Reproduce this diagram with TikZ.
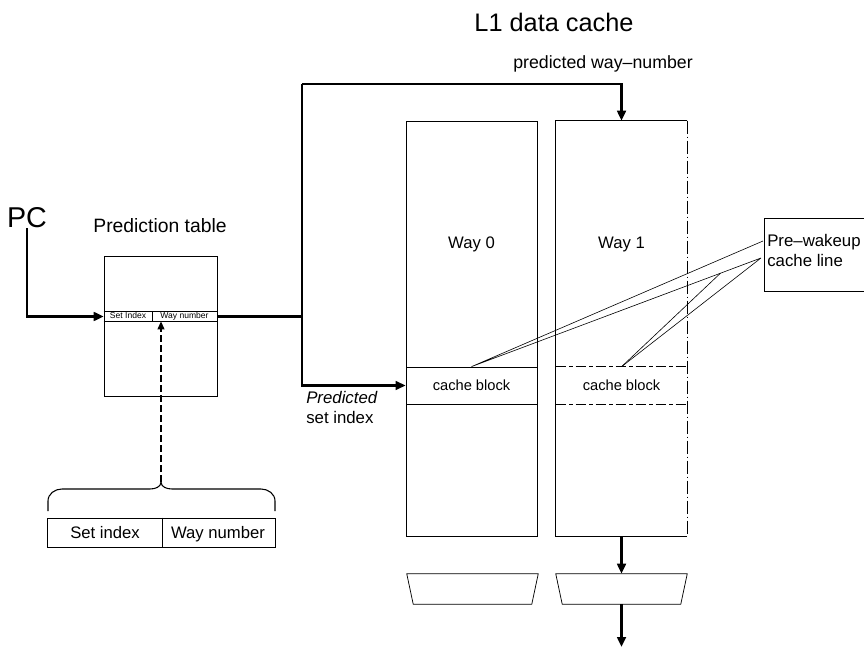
\documentclass[tikz,border=0pt]{standalone}
\usepackage{fontspec}
\setmainfont{Liberation Sans}
\usetikzlibrary{arrows.meta,calc}
\begin{document}
\begin{tikzpicture}[x=0.75pt,y=-0.75pt,
  bus/.style={line width=2.2pt},
  busarrow/.style={line width=2.2pt,-{Triangle[length=7.5pt,width=6.5pt]}},
  thinline/.style={line width=0.55pt},
  thinbox/.style={draw,line width=0.55pt,inner sep=0pt},
  blank/.style={inner sep=0pt},
  waybox/.style={inner sep=0pt,minimum width=98.25pt,minimum height=311.25pt},
  blkbox/.style={inner sep=0pt,minimum width=98.25pt,minimum height=27.75pt,font=\fontsize{11}{13}\selectfont},
  muxbox/.style={inner sep=0pt,minimum width=98.25pt,minimum height=22.5pt},
  lbl/.style={inner sep=0pt,anchor=base,font=\fontsize{12.5}{14}\selectfont},
  prelbl/.style={inner sep=0pt,anchor=base west,font=\fontsize{12.6}{14}\selectfont},
  tiny/.style={inner sep=0pt,anchor=base,font=\fontsize{6.4}{7}\selectfont}]
\useasboundingbox (0,0) rectangle (864,648);

% titles
\node[blank,font=\fontsize{19}{22}\selectfont] (title) at (554,22) {L1 data cache};
\node[blank,font=\fontsize{13.3}{15}\selectfont] (pwn) at (603,64) {predicted way–number};
\node[blank,font=\fontsize{21.5}{24}\selectfont] (pc) at (27,218) {PC};
\node[blank,font=\fontsize{14.5}{16}\selectfont] (ptl) at (160,226) {Prediction table};

% prediction table
\node[thinbox,minimum width=84.75pt,minimum height=105pt] (ptab) at (160.5,326) {};
\node[blank,minimum width=84.75pt,minimum height=6.75pt] (strip) at (160.5,316.5) {};
\draw[thinline] (strip.north west) -- (strip.north east) (strip.south west) -- (strip.south east);
\draw[thinline] ($(strip.north west)!0.425!(strip.north east)$) -- ($(strip.south west)!0.425!(strip.south east)$);
\node[tiny] (si) at (128,319) {Set Index};
\node[tiny] (wn) at (184.5,319) {Way number};

% format box with brace
\node[thinbox,minimum width=171pt,minimum height=21.75pt] (fmt) at (161,532.5) {};
\draw[thinline] ($(fmt.north west)!0.504!(fmt.north east)$) -- ($(fmt.south west)!0.504!(fmt.south east)$);
\node[lbl] (fsi) at (105,538) {Set index};
\node[lbl] (fwn) at (218,538) {Way number};
\coordinate (bt) at (161,482);
\draw[line width=0.8pt] (48,511) -- (48,501) to[out=90,in=180] (62,489) -- (150,489)
   to[out=0,in=-90] (bt) to[out=-90,in=180] (172,489) -- (261,489) to[out=0,in=90] (275,501) -- (275,511);
\draw[line width=1.2pt,dash pattern=on 5pt off 2.5pt,-{Triangle[length=6pt,width=5pt]}] (bt) -- (bt |- strip.south);

% ways
\node[waybox,draw,line width=0.55pt] (way0) at (471.5,328.5) {};
\node[waybox] (way1) at (621.5,328.5) {};
\draw[thinline] (way1.north east) -- (way1.north west) -- (way1.south west) -- (way1.south east);
\draw[thinline,dash pattern=on 10pt off 2pt on 1pt off 2pt] (way1.north east) -- (way1.south east);
\node[lbl] (w0) at (471.5,249) {Way 0};
\node[lbl] (w1) at (621.5,249) {Way 1};

% cache blocks
\node[blkbox,draw,line width=0.55pt] (blk0) at (471.5,385.5) {cache block};
\node[blkbox] (blk1) at (621.5,385.5) {cache block};
\draw[thinline,dash pattern=on 8pt off 2pt on 3pt off 2pt] (blk1.north west) -- (blk1.north east) (blk1.south west) -- (blk1.south east);

% pre-wakeup box
\coordinate (preTL) at (764,218);
\coordinate (preBL) at (764,291);
\draw[thinline] (864,218) -- (preTL) -- (preBL) -- (864,291);
\node[prelbl] (pre1) at (767,247) {Pre–wakeup};
\node[prelbl] (pre2) at (767,267) {cache line};
\coordinate (p1) at (763,241);
\coordinate (p2) at (761,258);
\draw[line width=0.45pt] (blk0.north) -- (p1) (blk0.north) -- (p2) (blk1.north) -- (p2);
\draw[line width=0.45pt] (blk1.north) -- ($(blk0.north)!0.86!(p2)$);

% muxes
\node[muxbox] (mux0) at (472.5,589) {};
\node[muxbox] (mux1) at (621.5,589) {};
\foreach \m in {mux0,mux1}
  \draw[thinline] (\m.north west) -- (\m.north east) -- ($(\m.south east)+(-6.5,0)$) -- ($(\m.south west)+(6.5,0)$) -- cycle;
\coordinate (out) at (621.5,647);

% buses
\coordinate (j1) at (302,316.5);
\coordinate (jt) at (302,84);
\draw[busarrow] (pc.south) |- (strip.west);
\draw[bus] (strip.east) -- (j1);
\draw[bus] (j1) -- (jt);
\draw[busarrow] (jt) -| (way1.north);
\draw[busarrow] (jt) |- (blk0.west);
\draw[busarrow] (way1.south) -- (mux1.north);
\draw[busarrow] (mux1.south) -- (out);

\node[blank,anchor=north west,align=left,font=\fontsize{12.6}{15}\selectfont] (psi) at (306,391) {\textit{Predicted}\\set index};
\end{tikzpicture}
\end{document}
